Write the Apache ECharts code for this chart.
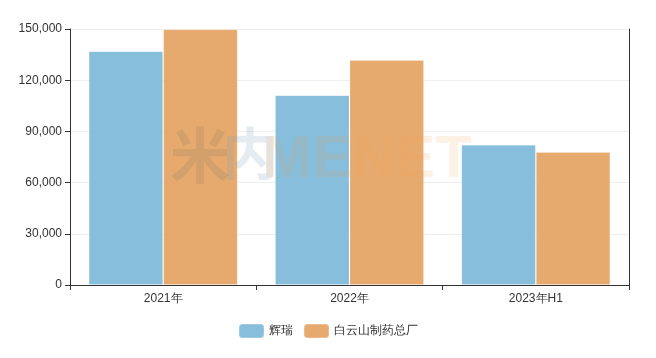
<!DOCTYPE html>
<html><head><meta charset="utf-8">
<script src="https://cdn.jsdelivr.net/npm/echarts@6/dist/echarts.min.js"></script>
<style>html,body{margin:0;padding:0;background:#fff}#c{width:656px;height:358px}</style>
</head><body><div id="c"></div>
<script>
const categories = ['2021年', '2022年', '2023年H1'];
const seriesNames = ['辉瑞', '白云山制药总厂'];
const pfizer = [137000, 111200, 82200];
const baiyunshan = [149800, 131800, 77900];
const yTicks = [0, 30000, 60000, 90000, 120000, 150000];

const chart = echarts.init(document.getElementById('c'));
chart.setOption({
  animation: false,
  color: ['#86bedb', '#e6aa6e'],
  graphic: [
    {type: 'text', x: 170, y: 125, z: 100, silent: true,
     style: {text: '米', fontSize: 60, fontWeight: 'bold', fontFamily: 'Noto Sans CJK SC', fill: 'rgba(130,110,90,0.18)'}},
    {type: 'text', x: 222, y: 125, z: 100, silent: true,
     style: {text: '内', fontSize: 56, fontWeight: 'bold', fontFamily: 'Noto Sans CJK SC', fill: 'rgba(120,160,190,0.2)'}},
    {type: 'text', x: 262, y: 130, z: 100, silent: true,
     style: {text: 'MENET', fontSize: 60, fontWeight: 'bold', fontFamily: 'Liberation Sans', fill: 'rgba(240,160,90,0.15)'}}
  ],
  legend: {
    data: seriesNames, bottom: 14, left: 'center',
    itemWidth: 25, itemHeight: 14, itemGap: 10,
    textStyle: {fontSize: 12, color: '#333'}
  },
  grid: {left: 70, right: 27, top: 29, bottom: 73},
  xAxis: {
    type: 'category', data: categories,
    axisLine: {lineStyle: {color: '#333'}},
    axisTick: {show: true, lineStyle: {color: '#333'}},
    axisLabel: {color: '#333', fontSize: 12, margin: 8}
  },
  yAxis: [{
    type: 'value', min: yTicks[0], max: yTicks[yTicks.length - 1], interval: 30000,
    axisLine: {show: true, lineStyle: {color: '#333'}},
    axisTick: {show: true, lineStyle: {color: '#333'}},
    axisLabel: {color: '#333', fontSize: 12, formatter: v => v.toLocaleString('en-US')},
    splitLine: {lineStyle: {color: '#eee'}}
  }, {
    type: 'value', min: yTicks[0], max: yTicks[yTicks.length - 1], interval: 30000, position: 'right',
    axisLine: {show: true, lineStyle: {color: '#333'}},
    axisTick: {show: false}, axisLabel: {show: false}, splitLine: {show: false}
  }],
  series: [
    {name: seriesNames[0], type: 'bar', data: pfizer, barGap: '0%', barCategoryGap: '20%',
     itemStyle: {borderColor: 'rgba(255,255,255,0.2)', borderWidth: 1}},
    {name: seriesNames[1], type: 'bar', data: baiyunshan, barGap: '0%', barCategoryGap: '20%',
     itemStyle: {borderColor: 'rgba(255,255,255,0.2)', borderWidth: 1}}
  ]
});
</script></body></html>
